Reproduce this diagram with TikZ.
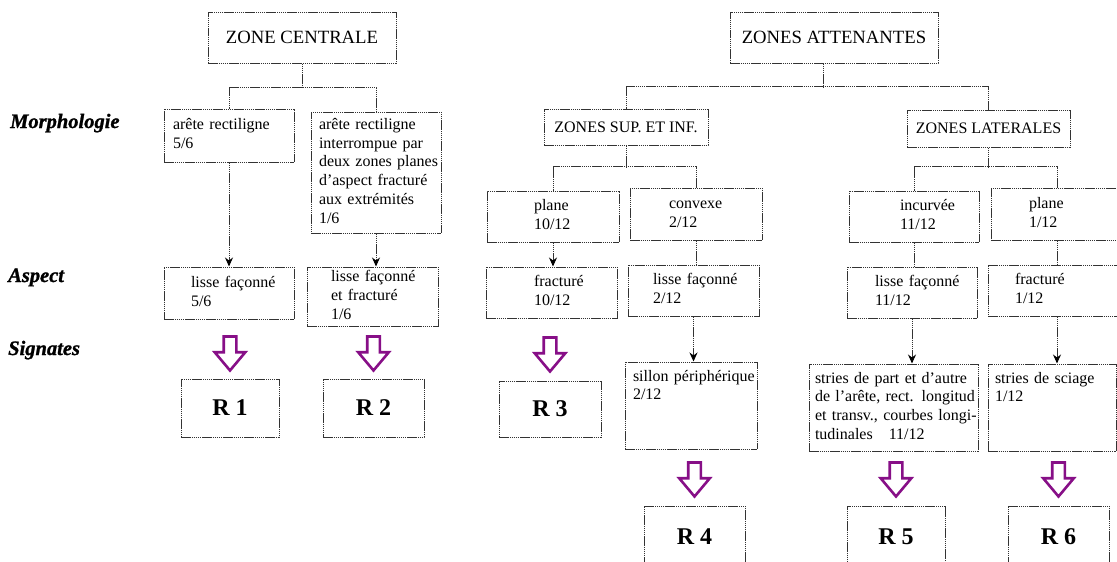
\documentclass[tikz,border=0pt]{standalone}
\usepackage{fontspec}
\setmainfont{Liberation Serif}
\usepackage{xcolor}
\usetikzlibrary{shapes, arrows.meta, positioning}

\definecolor{framegray}{gray}{0.2}
\definecolor{sigpurple}{RGB}{135,15,135}
\newcommand{\cell}[2]{\hspace*{#1}\begin{tabular}{@{}l@{}}#2\end{tabular}}

\begin{document}
\begin{tikzpicture}[x=1pt, y=-1pt,
    frame/.style={draw=framegray, line width=1pt, dash pattern=on 1.5pt off 0.6pt},
    zone/.style={frame, inner sep=0pt, font=\fontsize{18.7}{22}\selectfont},
    item/.style={frame, inner sep=0pt, align=left, font=\fontsize{16}{18.8}\selectfont},
    res/.style={frame, inner sep=0pt, font=\fontsize{24}{28}\selectfont\bfseries},
    level/.style={anchor=base west, inner sep=0pt, font=\fontsize{20.5}{24}\selectfont\bfseries\itshape\addfontfeature{FakeBold=1.2}},
    link/.style={frame},
    arr/.style={link, -{Stealth[length=9pt, width=8pt, black]}},
    sig/.style={single arrow, draw=sigpurple, fill=white, line width=2.6pt, rotate=-90, anchor=tip,
        minimum height=34pt, minimum width=28pt, inner sep=5pt,
        single arrow head extend=9pt, single arrow tip angle=80}]
    \useasboundingbox (0,0) rectangle (1117,562);

    % row titles
    \node[level] (morph) at (10,128) {Morphologie};
    \node[level] (asp) at (8,282) {Aspect};
    \node[level] (sgn) at (8,355) {Signates};

    % zone centrale
    \node[zone, minimum width=188pt, minimum height=51pt] (zc) at (302,37.5) {ZONE CENTRALE};
    \node[item, text width=130pt, minimum height=53pt] (m1) at (229,135.5) {\cell{9pt}{arête rectiligne\\5/6}};
    \node[item, text width=130pt, minimum height=121pt] (m2) at (376,172.5)
        {\cell{8pt}{arête rectiligne\\interrompue par\\deux zones planes\\d'aspect fracturé\\aux extrémités\\1/6}};
    \node[item, text width=130pt, minimum height=52pt] (a1) at (229,293) {\cell{27pt}{lisse façonné\\5/6}};
    \node[item, text width=131pt, minimum height=59pt] (a2) at (372.5,296.5) {\cell{24pt}{lisse façonné\\et fracturé\\1/6}};
    \node[res, minimum width=98pt, minimum height=58pt] (r1) at (230,408) {R 1};
    \node[res, minimum width=101pt, minimum height=58pt] (r2) at (373.5,408) {R 2};

    % zones attenantes
    \node[zone, minimum width=208pt, minimum height=51pt] (za) at (834,37.5) {ZONES ATTENANTES};
    \node[item, minimum width=164pt, minimum height=36pt] (sup) at (626,127) {ZONES SUP. ET INF.};
    \node[item, minimum width=163pt, minimum height=37pt] (lat) at (988.5,128.5) {ZONES LATERALES};

    \node[item, text width=132pt, minimum height=51pt] (p10) at (553,216.5) {\cell{47pt}{plane\\10/12}};
    \node[item, text width=132pt, minimum height=52pt] (cvx) at (696,214) {\cell{39pt}{convexe\\2/12}};
    \node[item, text width=131pt, minimum height=51pt] (f10) at (551.5,292.5) {\cell{48pt}{fracturé\\10/12}};
    \node[item, text width=131pt, minimum height=51pt] (l2) at (693.5,290.5) {\cell{25pt}{lisse façonné\\2/12}};
    \node[res, minimum width=102pt, minimum height=56pt] (r3) at (550,409) {R 3};
    \node[item, text width=132pt, minimum height=87pt] (sil) at (691,405.5) {\cell{8pt}{sillon périphérique\\2/12\\~\\~}};
    \node[res, minimum width=101pt, minimum height=62pt] (r4) at (694.5,537) {R 4};

    \node[item, text width=130pt, minimum height=51pt] (inc) at (914,216.5) {\cell{51pt}{incurvée\\11/12}};
    \node[item, text width=132pt, minimum height=52pt] (p1) at (1057,214) {\cell{38pt}{plane\\1/12}};
    \node[item, text width=130pt, minimum height=51pt] (l11) at (912,292.5) {\cell{28pt}{lisse façonné\\11/12}};
    \node[item, text width=138pt, minimum height=51pt] (f1) at (1057,290.5) {\cell{27pt}{fracturé\\1/12}};
    \node[item, text width=169pt, minimum height=87pt] (s5) at (893.5,407.5)
        {\cell{6pt}{stries de part et d'autre\\de l'arête, rect. longitud\\et transv., courbes longi-\\tudinales\quad 11/12}};
    \node[item, text width=128pt, minimum height=87pt] (s6) at (1052,407.5) {\cell{7pt}{stries de sciage\\1/12\\~\\~}};
    \node[res, minimum width=98pt, minimum height=62pt] (r5) at (896,537) {R 5};
    \node[res, minimum width=101pt, minimum height=62pt] (r6) at (1058.5,537) {R 6};

    % tree links
    \draw[link] (zc.south) -- ++(0,25);
    \draw[link] (m1.north) -- ++(0,-21) -| (m2.north);
    \draw[arr] (m1.south) -- (a1.north);
    \draw[arr] (m2.south) -- (m2.south |- a2.north);

    \draw[link] ([xshift=-11pt]za.south) -- ++(0,24);
    \draw[link] (sup.north) -- ++(0,-22) -| (lat.north);
    \draw[link] (sup.south) -- ++(0,22);
    \draw[link] (p10.north) -- ++(0,-24) -| (cvx.north);
    \draw[link] (lat.south) -- ++(0,20);
    \draw[link] (inc.north) -- ++(0,-24) -| (p1.north);

    \draw[arr] (p10.south) -- (p10.south |- f10.north);
    \draw[link] (cvx.south) -- (cvx.south |- l2.north);
    \draw[link] (inc.south) -- (inc.south |- l11.north);
    \draw[link] (p1.south) -- (p1.south |- f1.north);
    \draw[arr] (l2.south) -- (l2.south |- sil.north);
    \draw[arr] (l11.south) -- (l11.south |- s5.north);
    \draw[arr] (f1.south) -- (f1.south |- s6.north);

    % signates
    \node[sig] (g1) at ([yshift=6pt]r1.north) {};
    \node[sig] (g2) at ([yshift=6pt]r2.north) {};
    \node[sig] (g3) at ([yshift=7pt]r3.north) {};
    \node[sig] (g4) at ([yshift=7pt]r4.north) {};
    \node[sig] (g5) at ([yshift=7pt]r5.north) {};
    \node[sig] (g6) at ([yshift=7pt]r6.north) {};
\end{tikzpicture}
\end{document}
